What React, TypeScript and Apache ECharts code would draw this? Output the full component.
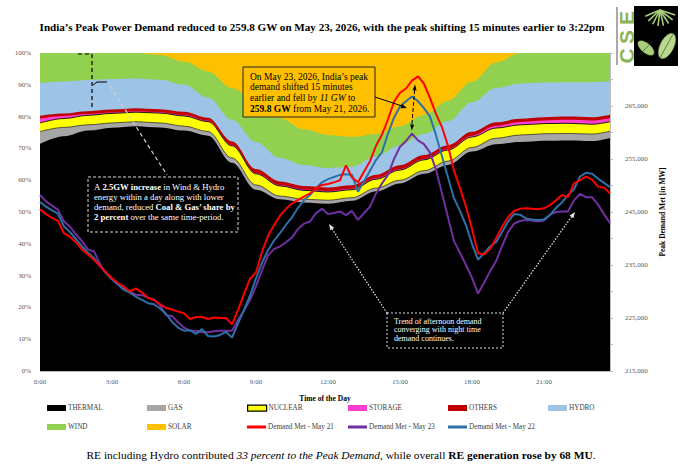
import React, { useEffect, useRef } from "react";
import * as echarts from "echarts";

// ---------- DATA ----------
// Hours of the day at which the generation-share boundaries were read
const AREA_HOURS = [0, 1, 2, 3, 4, 5, 6, 7, 8, 9, 10, 11, 12, 13, 14, 15, 16, 17, 18, 19, 20, 21, 22, 23, 23.75];

// Cumulative share (% of demand met) at the top of each layer
const THERMAL_TOP = [71.4, 73.8, 75.6, 76.5, 77.0, 76.6, 75.6, 74.0, 65.5, 57.0, 54.0, 53.0, 52.6, 53.5, 56.5, 59.0, 62.0, 64.8, 69.0, 71.3, 72.0, 72.4, 72.5, 72.3, 73.3];
const GAS_TOP = [75.3, 76.6, 77.4, 78.0, 78.4, 78.0, 77.0, 75.3, 67.0, 58.5, 55.0, 54.0, 53.7, 54.5, 57.5, 60.0, 63.0, 66.0, 70.3, 73.2, 74.2, 74.6, 74.7, 74.5, 75.4];
const NUCLEAR_TOP = [78.0, 79.4, 80.4, 81.0, 81.4, 81.1, 80.2, 78.4, 70.8, 62.0, 58.2, 56.8, 56.3, 57.0, 60.3, 63.2, 66.4, 69.5, 73.6, 76.4, 77.4, 77.8, 77.9, 77.6, 78.4];
const STORAGE_TOP = [79.4, 80.2, 80.8, 81.3, 81.7, 81.4, 80.5, 78.7, 71.1, 62.3, 58.5, 57.1, 56.6, 57.3, 60.6, 63.5, 66.7, 69.8, 74.0, 77.1, 78.3, 78.8, 79.0, 78.8, 79.5];
const OTHERS_TOP = [80.3, 81.0, 81.7, 82.2, 82.6, 82.3, 81.5, 79.6, 72.2, 63.5, 59.6, 58.2, 57.7, 58.4, 61.7, 64.7, 67.9, 71.0, 75.2, 78.2, 79.3, 79.8, 80.0, 79.8, 80.6];
const HYDRO_TOP = [90.5, 91.0, 91.5, 91.8, 92.0, 91.6, 90.0, 86.0, 79.0, 72.0, 67.0, 64.8, 63.8, 64.2, 67.5, 71.0, 74.5, 78.5, 84.5, 89.0, 90.4, 90.7, 90.8, 90.8, 91.0];
const WIND_TOP = [100, 100, 100, 100, 100, 99.4, 97.3, 94.2, 89.0, 84.5, 79.5, 76.0, 74.2, 73.6, 74.5, 77.0, 80.5, 85.0, 91.0, 97.0, 100, 100, 100, 100, 100];
const SOLAR_TOP = [100, 100, 100, 100, 100, 100, 100, 100, 100, 100, 100, 100, 100, 100, 100, 100, 100, 100, 100, 100, 100, 100, 100, 100, 100];

// Demand met, thousand MW, every 15 minutes from 0:00 to 23:45
const DEMAND_MAY21 = [
  245.5, 244.6, 243.9, 243.3, 241.0, 240.3, 239.3, 237.9, 237.0, 236.0,
  234.8, 233.6, 232.5, 231.6, 230.9, 230.0, 230.6, 229.8, 228.8, 228.4,
  227.6, 226.9, 226.6, 226.2, 225.9, 224.8, 225.2, 225.2, 224.8, 225.1,
  225.0, 225.0, 223.8, 226.5, 229.5, 232.4, 233.6, 237.5, 240.5, 242.5,
  244.3, 245.6, 246.6, 247.3, 247.9, 248.5, 249.5, 250.1, 250.3, 250.6,
  251.0, 253.8, 251.5, 250.6, 252.6, 254.6, 257.5, 259.6, 262.5, 265.8,
  267.5, 268.3, 269.8, 270.6, 269.2, 266.5, 263.5, 261.0, 257.5, 252.8,
  249.5, 246.0, 241.8, 237.2, 237.0, 238.0, 240.0, 242.2, 244.0, 245.2,
  245.6, 245.7, 245.6, 245.5, 245.7, 246.3, 247.2, 248.2, 247.8, 250.4,
  251.0, 251.7, 251.1, 249.8, 249.6, 248.5,
];
const DEMAND_MAY22 = [
  246.9, 246.0, 245.3, 244.7, 242.3, 241.2, 239.9, 238.5, 237.3, 236.3,
  234.8, 233.5, 232.3, 231.3, 230.3, 229.8, 229.0, 228.4, 227.8, 227.6,
  226.8, 225.8, 224.3, 223.2, 222.6, 222.7, 222.0, 222.9, 221.6, 221.5,
  221.8, 222.4, 221.3, 224.0, 226.5, 229.2, 232.5, 235.4, 237.8, 239.6,
  241.0, 242.6, 244.0, 245.8, 247.2, 248.2, 249.5, 250.6, 251.2, 251.6,
  252.0, 252.1, 252.0, 248.8, 250.8, 252.8, 254.8, 256.3, 259.8, 262.8,
  264.9, 265.9, 266.8, 265.9, 264.6, 263.0, 259.5, 255.5, 251.5, 247.6,
  245.2, 242.5, 239.0, 236.0, 237.2, 238.5, 239.3, 241.2, 243.2, 244.6,
  244.5, 243.8, 243.6, 243.5, 243.6, 244.4, 245.8, 246.8, 248.2, 249.3,
  251.7, 252.4, 252.2, 251.3, 250.5, 249.7,
];
const DEMAND_MAY23 = [
  248.2, 247.0, 246.2, 245.4, 243.2, 242.2, 240.8, 239.5, 237.9, 237.6,
  235.2, 233.5, 232.3, 231.3, 230.6, 229.9, 229.4, 229.3, 228.8, 228.5,
  227.4, 225.5, 225.4, 224.2, 223.2, 222.6, 222.6, 222.3, 222.3, 222.5,
  222.6, 222.6, 222.6, 224.6, 226.4, 228.4, 231.0, 234.0, 236.8, 238.0,
  238.5, 239.3, 240.2, 241.8, 242.8, 243.2, 244.8, 245.6, 244.6, 244.8,
  245.1, 244.4, 245.2, 243.5, 244.8, 246.0, 248.5, 250.4, 252.0, 255.0,
  257.3, 258.4, 259.8, 258.5, 257.8, 256.2, 253.0, 248.5, 244.0, 239.5,
  237.3, 235.0, 232.6, 229.6, 231.6, 233.8, 235.7, 238.5, 241.2, 242.8,
  243.3, 243.5, 243.4, 243.2, 243.4, 244.5, 245.0, 245.1, 245.1, 247.2,
  248.4, 247.8, 247.8, 246.4, 244.6, 242.9,
];

const X_TICK_LABELS = ["0:00", "3:00", "6:00", "9:00", "12:00", "15:00", "18:00", "21:00"];
const RIGHT_TICK_LABELS = ["215,000", "225,000", "235,000", "245,000", "255,000", "265,000"];

const AREA_NAMES = ["THERMAL", "GAS", "NUCLEAR", "STORAGE", "OTHERS", "HYDRO", "WIND", "SOLAR"];
const LINE_NAMES = ["Demand Met - May 21", "Demand Met - May 23", "Demand Met - May 22"];

// ---------- STYLE ----------
const SERIF = "'Liberation Serif', 'Times New Roman', serif";
const COLORS: Record<string, string> = {
  THERMAL: "#000000",
  GAS: "#A6A6A6",
  NUCLEAR: "#FFFF00",
  STORAGE: "#FF3FCF",
  OTHERS: "#C00000",
  HYDRO: "#9DC3E6",
  WIND: "#92D050",
  SOLAR: "#FFC000",
  "Demand Met - May 21": "#FF0000",
  "Demand Met - May 23": "#7030A0",
  "Demand Met - May 22": "#2E70A8",
};

function arrowHead(x1: number, y1: number, x2: number, y2: number, len: number, wid: number, color: string) {
  const a = Math.atan2(y2 - y1, x2 - x1);
  const bx = x2 - len * Math.cos(a);
  const by = y2 - len * Math.sin(a);
  const px = (-Math.sin(a) * wid) / 2;
  const py = (Math.cos(a) * wid) / 2;
  return {
    type: "polygon",
    z: 101,
    shape: { points: [[x2, y2], [bx + px, by + py], [bx - px, by - py]] },
    style: { fill: color },
  };
}

function richLine(x: number, y: number, text: string, size: number, color: string) {
  return {
    type: "text",
    z: 101,
    x,
    y,
    style: {
      text,
      fill: color,
      fontSize: size,
      fontFamily: SERIF,
      textVerticalAlign: "middle",
      rich: {
        n: { fontSize: size, fontFamily: SERIF, fill: color },
        b: { fontSize: size, fontFamily: SERIF, fill: color, fontWeight: "bold" },
        i: { fontSize: size, fontFamily: SERIF, fill: color, fontStyle: "italic" },
      },
    },
  };
}

export default function App() {
  const ref = useRef<HTMLDivElement>(null);

  useEffect(() => {
    document.body.style.margin = "0";
    if (!ref.current) return;
    const chart = echarts.init(ref.current, undefined, { renderer: "svg" });

    const tops: Record<string, number[]> = {
      THERMAL: THERMAL_TOP,
      GAS: GAS_TOP,
      NUCLEAR: NUCLEAR_TOP,
      STORAGE: STORAGE_TOP,
      OTHERS: OTHERS_TOP,
      HYDRO: HYDRO_TOP,
      WIND: WIND_TOP,
      SOLAR: SOLAR_TOP,
    };

    const areaSeries = AREA_NAMES.map((name, k) => {
      const color = COLORS[name];
      let lineStyle: any = { width: 0, color };
      if (name === "NUCLEAR") lineStyle = { width: 1, color: "#1a1a1a" };
      if (name === "GAS") lineStyle = { width: 0.8, color: "#333333" };
      return {
        name,
        type: "line",
        xAxisIndex: 0,
        yAxisIndex: 0,
        data: AREA_HOURS.map((h, i) => [h, tops[name][i]]),
        smooth: 0.35,
        smoothMonotone: "x",
        symbol: "none",
        showSymbol: false,
        color,
        itemStyle: { color },
        lineStyle,
        areaStyle: { color, opacity: 1 },
        z: 2 + (AREA_NAMES.length - k),
        silent: true,
      };
    });

    const lineData: Record<string, number[]> = {
      "Demand Met - May 21": DEMAND_MAY21,
      "Demand Met - May 23": DEMAND_MAY23,
      "Demand Met - May 22": DEMAND_MAY22,
    };
    const lineSeries = LINE_NAMES.map((name, k) => ({
      name,
      type: "line",
      xAxisIndex: 0,
      yAxisIndex: 1,
      data: lineData[name].map((v, i) => [i * 0.25, v * 1000]),
      symbol: "none",
      showSymbol: false,
      color: COLORS[name],
      itemStyle: { color: COLORS[name] },
      lineStyle: { width: 2, color: COLORS[name] },
      z: 20 + (k === 0 ? 2 : k === 2 ? 1 : 0),
      silent: true,
    }));

    // legend placement (two rows of six columns)
    const legendNames = [...AREA_NAMES, ...LINE_NAMES];
    const colX = [47, 147, 247, 348, 448, 548];
    const rowY = [409, 428];
    const legends = legendNames.map((name, idx) => {
      const isLine = LINE_NAMES.includes(name);
      const h = isLine ? 3 : 6;
      const item: any = { name };
      if (name === "NUCLEAR") item.itemStyle = { borderColor: "#000", borderWidth: 1.2 };
      return {
        show: true,
        data: [item],
        left: colX[idx % 6],
        top: rowY[Math.floor(idx / 6)] - 4.5,
        icon: "rect",
        itemWidth: 19,
        itemHeight: h,
        itemGap: 0,
        padding: 0,
        selectedMode: false,
        textStyle: { fontSize: 7.2, color: "#404040", fontFamily: SERIF, padding: [0, 0, 0, -3] },
      };
    });

    const axisGrey = "#BFBFBF";
    const labelGrey = "#595959";

    const graphic: any[] = [
      // Title
      {
        type: "text",
        z: 101,
        x: 322,
        y: 27,
        style: {
          text: "India’s Peak Power Demand reduced to 259.8 GW on May 23, 2026, with the peak shifting 15 minutes earlier to 3:22pm",
          fill: "#000",
          fontSize: 11.1,
          fontWeight: "bold",
          fontFamily: SERIF,
          textAlign: "center",
          textVerticalAlign: "middle",
        },
      },
      // Footer
      {
        type: "text",
        z: 101,
        x: 341,
        y: 455,
        style: {
          text: "{n|RE including Hydro contributed }{i|33 percent to the Peak Demand}{n|, while overall }{b|RE generation rose by 68 MU}{n|.}",
          textAlign: "center",
          textVerticalAlign: "middle",
          fontSize: 11.4,
          fontFamily: SERIF,
          fill: "#000",
          rich: {
            n: { fontSize: 11.4, fontFamily: SERIF, fill: "#000" },
            i: { fontSize: 11.4, fontFamily: SERIF, fill: "#000", fontStyle: "italic" },
            b: { fontSize: 11.4, fontFamily: SERIF, fill: "#000", fontWeight: "bold" },
          },
        },
      },
      // Logo
      { type: "line", z: 101, shape: { x1: 617, y1: 7, x2: 617, y2: 65 }, style: { stroke: "#8C8C8C", lineWidth: 1.5 } },
      ...["C", "S", "E"].map((ch, i) => ({
        type: "text",
        z: 101,
        x: 626,
        y: 56 - i * 19,
        rotation: Math.PI / 2,
        style: {
          text: ch,
          fill: "#8CB356",
          fontSize: 21,
          fontWeight: "bold",
          fontFamily: "'Liberation Sans', Arial, sans-serif",
          textAlign: "center",
          textVerticalAlign: "middle",
        },
      })),
      { type: "rect", z: 101, shape: { x: 634, y: 6, width: 44, height: 60 }, style: { fill: "#000" } },
      ...[0, 1, 2, 3, 4, 5, 6, 7].map((k) => ({
        type: "line",
        z: 102,
        shape: { x1: 660, y1: 10, x2: 660 + 16 * Math.cos(Math.PI * (0.1 + k * 0.11)), y2: 10 + 16 * Math.sin(Math.PI * (0.1 + k * 0.11)) },
        style: { stroke: "#A9CF7A", lineWidth: 1.6 },
      })),
      { type: "ellipse", z: 102, x: 646, y: 48, rotation: -0.7, shape: { cx: 0, cy: 0, rx: 10, ry: 5 }, style: { fill: "#A9CF7A", stroke: "#2d3b1c", lineWidth: 0.6 } },
      { type: "ellipse", z: 102, x: 667, y: 46, rotation: 1.1, shape: { cx: 0, cy: 0, rx: 14, ry: 7 }, style: { fill: "#B9D98E", stroke: "#2d3b1c", lineWidth: 0.6 } },
      { type: "line", z: 103, shape: { x1: 660, y1: 58, x2: 673, y2: 34 }, style: { stroke: "#2d3b1c", lineWidth: 0.6 } },
      { type: "line", z: 103, shape: { x1: 639, y1: 55, x2: 653, y2: 41 }, style: { stroke: "#2d3b1c", lineWidth: 0.6 } },

      // Annotation 1 (left, white dashed)
      { type: "rect", z: 101, shape: { x: 88, y: 177, width: 150, height: 55 }, style: { fill: "none", stroke: "#D9D9D9", lineWidth: 1, lineDash: [3, 2] } },
      richLine(94, 187, "{n|A }{b|2.5GW increase}{n| in Wind & Hydro}", 8.7, "#fff"),
      richLine(94, 197, "{n|energy within a day along with lower}", 8.7, "#fff"),
      richLine(94, 206.5, "{n|demand, reduced }{b|Coal & Gas’ share by}", 8.7, "#fff"),
      richLine(94, 216.5, "{b|2 percent}{n| over the same time-period.}", 8.7, "#fff"),
      { type: "polyline", z: 101, shape: { points: [[78, 54], [92, 54], [92, 110]] }, style: { fill: "none", stroke: "#000", lineWidth: 1.2, lineDash: [4, 3] } },
      { type: "polyline", z: 101, shape: { points: [[93, 85], [97, 82], [107, 82]] }, style: { fill: "none", stroke: "#000", lineWidth: 1 } },
      { type: "line", z: 101, shape: { x1: 110, y1: 86, x2: 167, y2: 175 }, style: { stroke: "#D0D0D0", lineWidth: 1.2, lineDash: [4, 3] } },

      // Annotation 2 (orange box)
      { type: "rect", z: 101, shape: { x: 243, y: 67, width: 132, height: 50 }, style: { fill: "#FFC000", stroke: "#262626", lineWidth: 1 } },
      richLine(250, 76.5, "{n|On May 23, 2026, India’s peak}", 9.5, "#000"),
      richLine(250, 87.3, "{n|demand shifted 15 minutes}", 9.5, "#000"),
      richLine(250, 98.1, "{n|earlier and fell by }{i|11 GW}{n| to}", 9.5, "#000"),
      richLine(250, 108.9, "{b|259.8 GW}{n| from May 21, 2026.}", 9.5, "#000"),
      { type: "line", z: 101, shape: { x1: 375, y1: 97, x2: 402, y2: 106 }, style: { stroke: "#000", lineWidth: 1 } },
      arrowHead(375, 97, 407, 108, 6, 4.5, "#000"),
      { type: "line", z: 101, shape: { x1: 414.6, y1: 90, x2: 411.9, y2: 125 }, style: { stroke: "#000", lineWidth: 1, lineDash: [4, 2] } },
      arrowHead(411.7, 130.5, 415, 84.3, 6, 4, "#000"),
      arrowHead(415, 84.3, 411.7, 130.5, 6, 4, "#000"),

      // Annotation 3 (bottom right, white dotted)
      { type: "rect", z: 101, shape: { x: 387, y: 313, width: 116, height: 35 }, style: { fill: "none", stroke: "#E0E0E0", lineWidth: 1, lineDash: [2, 2] } },
      richLine(394, 321, "{n|Trend of afternoon demand}", 8, "#fff"),
      richLine(394, 329.5, "{n|converging with night time}", 8, "#fff"),
      richLine(394, 338, "{n|demand continues.}", 8, "#fff"),
      { type: "line", z: 101, shape: { x1: 387, y1: 313, x2: 332, y2: 229 }, style: { stroke: "#E6E6E6", lineWidth: 1.2, lineDash: [1.5, 1.5] } },
      arrowHead(387, 313, 329, 224, 6, 4.5, "#E6E6E6"),
      { type: "line", z: 101, shape: { x1: 503, y1: 313, x2: 572, y2: 216 }, style: { stroke: "#E6E6E6", lineWidth: 1.2, lineDash: [1.5, 1.5] } },
      arrowHead(503, 313, 575, 212, 6, 4.5, "#E6E6E6"),
    ];

    const option: any = {
      animation: false,
      backgroundColor: "#fff",
      textStyle: { fontFamily: SERIF },
      grid: { left: 40, right: 70, top: 53, bottom: 101, containLabel: false },
      legend: legends,
      xAxis: {
        type: "value",
        min: 0,
        max: 23.75,
        interval: 3,
        axisLine: { show: true, lineStyle: { color: axisGrey } },
        axisTick: { show: false },
        splitLine: { show: false },
        axisLabel: {
          fontSize: 7,
          color: labelGrey,
          fontFamily: SERIF,
          margin: 7,
          showMaxLabel: false,
          formatter: (v: number) => (v % 3 === 0 ? X_TICK_LABELS[v / 3] ?? "" : ""),
        },
        name: "Time of the Day",
        nameLocation: "middle",
        nameGap: 23,
        nameTextStyle: { fontSize: 7.5, fontWeight: "bold", color: "#000", fontFamily: SERIF },
      },
      yAxis: [
        {
          type: "value",
          min: 0,
          max: 100,
          interval: 10,
          axisLine: { show: true, lineStyle: { color: axisGrey } },
          axisTick: { show: false },
          splitLine: { show: false },
          axisLabel: { fontSize: 7, color: labelGrey, fontFamily: SERIF, margin: 9, formatter: "{value}%" },
        },
        {
          type: "value",
          position: "right",
          min: 215000,
          max: 275000,
          interval: 5000,
          axisLine: { show: true, lineStyle: { color: axisGrey } },
          axisTick: { show: true, length: 3, lineStyle: { color: axisGrey } },
          splitLine: { show: false },
          axisLabel: {
            fontSize: 7,
            color: labelGrey,
            fontFamily: SERIF,
            margin: 15,
            formatter: (v: number) => {
              const k = (v - 215000) / 10000;
              return Number.isInteger(k) && RIGHT_TICK_LABELS[k] ? RIGHT_TICK_LABELS[k] : "";
            },
          },
          name: "Peak Demand Met [in MW]",
          nameLocation: "middle",
          nameRotate: 90,
          nameGap: 40,
          nameTextStyle: { fontSize: 7.5, fontWeight: "bold", color: "#000", fontFamily: SERIF },
        },
      ],
      series: [...areaSeries, ...lineSeries],
      graphic,
    };

    chart.setOption(option);
    return () => chart.dispose();
  }, []);

  return <div ref={ref} style={{ width: 680, height: 472 }} />;
}
